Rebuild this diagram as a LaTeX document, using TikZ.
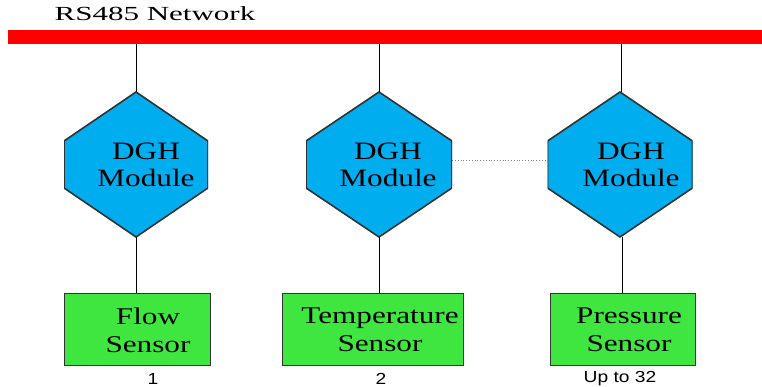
\documentclass[tikz,border=0pt]{standalone}
\usepackage{fontspec}
\usetikzlibrary{calc}
\newfontfamily\titlefont[FakeStretch=1.55]{Liberation Serif}
\newfontfamily\boxfont[FakeStretch=1.25]{Liberation Serif}
\newfontfamily\sensfont[FakeStretch=1.3]{Liberation Serif}
\newfontfamily\labfont[FakeStretch=1.2]{Liberation Sans}
\definecolor{hexblue}{RGB}{0,174,239}
\definecolor{sensgreen}{RGB}{64,230,64}
\definecolor{edgegray}{RGB}{50,50,50}
\tikzset{
  hexnode/.style={minimum width=#1, minimum height=145pt, inner sep=0pt,
    path picture={
      \filldraw[fill=hexblue,draw=edgegray,line width=1.6pt]
        (path picture bounding box.north) --
        ($(path picture bounding box.north east)!0.338!(path picture bounding box.south east)$) --
        ($(path picture bounding box.south east)!0.338!(path picture bounding box.north east)$) --
        (path picture bounding box.south) --
        ($(path picture bounding box.south west)!0.338!(path picture bounding box.north west)$) --
        ($(path picture bounding box.north west)!0.338!(path picture bounding box.south west)$) -- cycle;
    }},
  hexnode/.default=144pt,
  sensorbox/.style={minimum width=#1, minimum height=72pt, inner sep=0pt,
    fill=sensgreen, draw=edgegray, line width=0.8pt},
  sensorbox/.default=146pt,
  bigtext/.style={inner sep=0pt, align=center, font=\boxfont\fontsize{25}{27.5}\selectfont},
  senstext/.style={inner sep=0pt, align=center, font=\sensfont\fontsize{24}{28}\selectfont},
  numlabel/.style={inner sep=0pt, anchor=base, font=\labfont\fontsize{16}{18}\selectfont},
  wire/.style={line width=0.9pt, black}
}
\begin{document}
\begin{tikzpicture}[x=1pt,y=-1pt]
\useasboundingbox (0,0) rectangle (762,387);
% title and bus
\node[inner sep=0pt, anchor=base, font=\titlefont\fontsize{20}{22}\selectfont] (title) at (155,21) {RS485 Network};
\node[fill=red, minimum width=754pt, minimum height=14pt, inner sep=0pt] (bar) at (385,37) {};
% modules
\node[hexnode] (h1) at (136,164.5) {};
\node[hexnode=146pt] (h2) at (379,164.5) {};
\node[hexnode=145pt] (h3) at (620,164.5) {};
\node[bigtext] (t1) at (146,165) {DGH\\Module};
\node[bigtext] (t2) at (388,165) {DGH\\Module};
\node[bigtext] (t3) at (631,165) {DGH\\Module};
% sensors
\node[sensorbox] (s1) at (137,329) {};
\node[sensorbox=181pt] (s2) at (372.5,329) {};
\node[sensorbox=145pt] (s3) at (622.5,329) {};
\node[senstext] (u1) at (148,330) {Flow\\Sensor};
\node[senstext] (u2) at (380,330) {Temperature\\Sensor};
\node[senstext] (u3) at (629,330) {Pressure\\Sensor};
% numbers
\node[numlabel] (n1) at (153,384) {1};
\node[numlabel] (n2) at (381,384) {2};
\node[numlabel] (n3) at (620,382) {Up to 32};
% connectors
\draw[wire] (h1.north |- bar.south) -- (h1.north);
\draw[wire] (h2.north |- bar.south) -- (h2.north);
\draw[wire] ([xshift=1pt]h3.north |- bar.south) -- ([xshift=1pt]h3.north);
\draw[wire] (h1.south) -- (h1.south |- s1.north);
\draw[wire] (h2.south) -- (h2.south |- s2.north);
\draw[wire] ([xshift=2pt]h3.south) -- ([xshift=2pt]h3.south |- s3.north);
\draw[gray, dotted, line width=0.8pt] ([yshift=4.5pt]h2.east) -- ([yshift=4.5pt]h3.west);
\end{tikzpicture}
\end{document}
